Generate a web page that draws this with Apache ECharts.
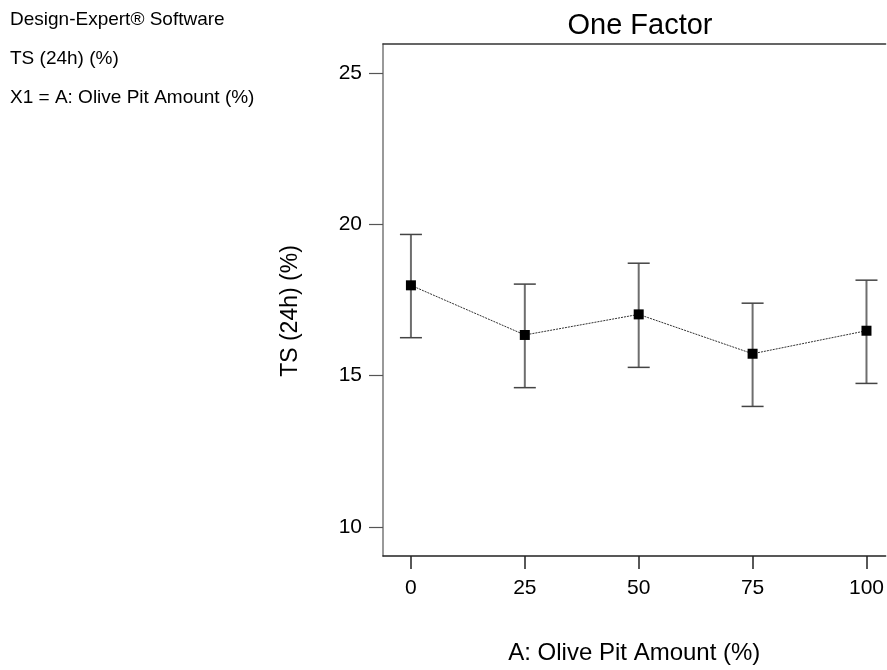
<!DOCTYPE html>
<html>
<head>
<meta charset="utf-8">
<script src="https://cdn.jsdelivr.net/npm/echarts@6/dist/echarts.min.js"></script>
<style>
  html, body { margin: 0; padding: 0; background: #fff; }
  #chart { width: 887px; height: 670px; }
</style>
</head>
<body>
<div id="chart"></div>
<script>
// factor levels and response means with their error bar limits
const levels = [0, 25, 50, 75, 100];
const means = [17.98, 16.34, 17.02, 15.72, 16.48];
const upper = [19.66, 18.02, 18.71, 17.39, 18.15];
const lower = [16.25, 14.60, 15.27, 13.98, 14.74];
const yTicks = [10, 15, 20, 25];

const FONT = 'Liberation Sans, Arial, sans-serif';

let pts = levels.map((x, i) => [x, means[i]]);
let bars = levels.map((x, i) => [x, lower[i], upper[i]]);

let myChart = echarts.init(document.getElementById('chart'));

let option = {
  backgroundColor: '#fff',
  animation: false,
  title: {
    text: 'One Factor',
    left: 635,
    top: 6,
    textAlign: 'center',
    textStyle: { fontFamily: FONT, fontSize: 29, fontWeight: 'normal', color: '#000' }
  },
  graphic: [
    { type: 'text', left: 10, top: 10, style: { text: 'Design-Expert® Software', fontFamily: FONT, fontSize: 19, fill: '#000' } },
    { type: 'text', left: 10, top: 49, style: { text: 'TS (24h) (%)', fontFamily: FONT, fontSize: 19, fill: '#000' } },
    { type: 'text', left: 10, top: 88, style: { text: 'X1 = A: Olive Pit Amount (%)', fontFamily: FONT, fontSize: 19, fill: '#000' } },
    // y axis title, placed by hand (sits a bit below the plot middle)
    {
      type: 'text', x: 291, y: 311, rotation: Math.PI / 2,
      style: { text: 'TS (24h) (%)', fontFamily: FONT, fontSize: 23, fill: '#000', align: 'center', verticalAlign: 'middle' }
    }
  ],
  grid: { left: 383, top: 44, right: 0, bottom: 113, show: false },
  xAxis: [
    {
      type: 'value',
      min: -6.13,
      max: 104.2,
      interval: 25,
      position: 'bottom',
      name: 'A: Olive Pit Amount (%)',
      nameLocation: 'middle',
      nameGap: 85,
      nameTextStyle: { fontFamily: FONT, fontSize: 24, color: '#000' },
      axisLine: { onZero: false, lineStyle: { color: '#222', width: 1.5 } },
      axisTick: { length: 13, lineStyle: { color: '#222', width: 1.5 }, customValues: levels },
      axisLabel: { fontFamily: FONT, fontSize: 21, color: '#000', margin: 22, customValues: levels },
      splitLine: { show: false }
    },
    {
      type: 'value',
      min: -6.13,
      max: 104.2,
      position: 'top',
      axisLine: { show: true, onZero: false, lineStyle: { color: '#333', width: 1.5 } },
      axisTick: { show: false },
      axisLabel: { show: false },
      splitLine: { show: false }
    }
  ],
  yAxis: {
    type: 'value',
    min: 9.04,
    max: 25.95,
    axisLine: { show: true, onZero: false, lineStyle: { color: '#777', width: 1.5 } },
    axisTick: { show: true, length: 14, lineStyle: { color: '#555', width: 1.2 }, customValues: yTicks },
    axisLabel: { fontFamily: FONT, fontSize: 21, color: '#000', margin: 21, customValues: yTicks },
    splitLine: { show: false }
  },
  series: [
    {
      type: 'custom',
      xAxisIndex: 0,
      data: bars,
      renderItem: function (params, api) {
        let x = api.value(0);
        let lo = api.coord([x, api.value(1)]);
        let hi = api.coord([x, api.value(2)]);
        let hw = 11;
        return {
          type: 'group',
          children: [
            { type: 'line', shape: { x1: hi[0], y1: hi[1], x2: lo[0], y2: lo[1] }, style: { stroke: '#6e6e6e', lineWidth: 2 } },
            { type: 'line', shape: { x1: hi[0] - hw, y1: hi[1], x2: hi[0] + hw, y2: hi[1] }, style: { stroke: '#444', lineWidth: 1.5 } },
            { type: 'line', shape: { x1: lo[0] - hw, y1: lo[1], x2: lo[0] + hw, y2: lo[1] }, style: { stroke: '#444', lineWidth: 1.5 } }
          ]
        };
      },
      z: 2
    },
    {
      type: 'line',
      xAxisIndex: 0,
      data: pts,
      symbol: 'rect',
      symbolSize: 10,
      itemStyle: { color: '#000' },
      lineStyle: { color: '#333', width: 1, type: [2, 1] },
      z: 3
    }
  ]
};

myChart.setOption(option);
</script>
</body>
</html>
